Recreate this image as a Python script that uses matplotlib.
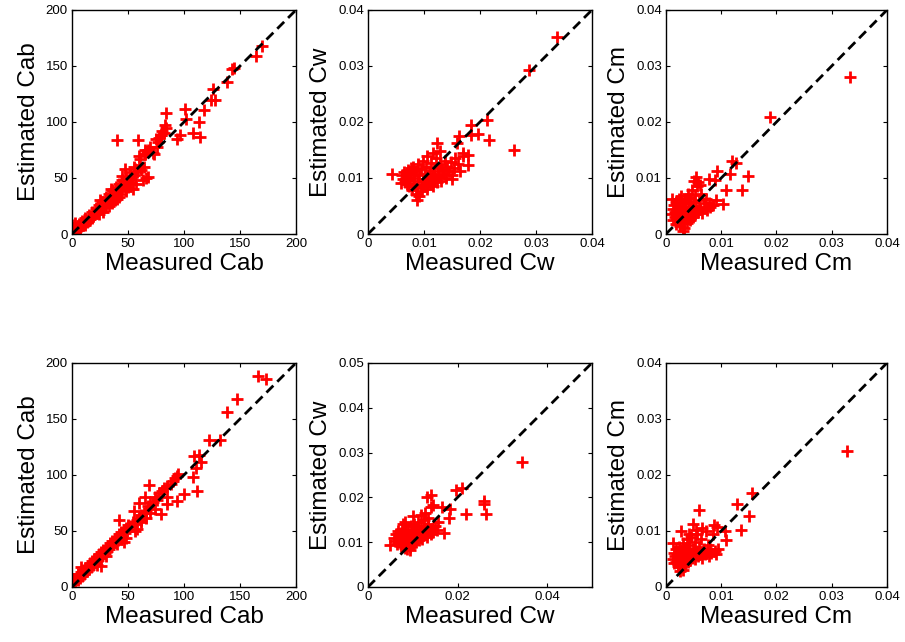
import matplotlib
matplotlib.use("Agg")
import matplotlib.pyplot as plt
import numpy as np

plt.rcParams["font.family"] = ["Liberation Sans", "DejaVu Sans"]

# ---- Cab, top row ----
cab1_x = [1, 2, 2, 3, 4, 5, 6, 7, 8, 9, 10, 11, 12, 13, 14, 15, 16, 17, 18, 19,
          20, 21, 22, 23, 24, 25, 26, 27, 28, 29, 30, 31, 32, 33, 34, 35, 36, 37, 38, 39,
          40, 41, 42, 43, 44, 45, 46, 47, 48, 49, 50, 52, 53, 55, 56, 58, 60, 62, 64, 66,
          57, 48, 42, 38, 33, 28, 60, 65, 70, 72, 75, 78, 80, 82, 84, 76, 77, 79, 3, 0,
          1, 35, 45, 25, 18, 12, 52, 54, 63, 61, 68, 73, 30, 36, 44, 50, 24, 40,
          40, 59, 84, 101, 102, 113, 108, 114, 96, 94, 83, 79, 118, 124, 126, 128, 138, 143,
          145, 164, 170, 65, 67, 68, 47, 55]
cab1_y = [5, 3, 8, 1, 6, 4, 9, 5, 7, 12, 8, 10, 14, 11, 12, 17, 13, 15, 20, 16,
          18, 23, 19, 21, 26, 22, 24, 29, 25, 27, 33, 28, 30, 36, 31, 33, 39, 34, 36, 42,
          37, 39, 45, 40, 42, 48, 43, 45, 51, 46, 48, 55, 50, 53, 58, 55, 62, 57, 60, 50,
          45, 38, 33, 30, 25, 20, 70, 75, 78, 72, 85, 86, 92, 90, 95, 78, 82, 88, 10, 2,
          0, 40, 52, 30, 14, 8, 46, 40, 48, 67, 75, 71, 24, 28, 36, 42, 18, 31,
          84, 84, 108, 112, 103, 100, 90, 87, 88, 85, 97, 88, 111, 120, 129, 120, 136, 147,
          148, 159, 168, 71, 73, 51, 58, 60]

# ---- Cw, top row ----
cw1_x = [0.0060, 0.0062, 0.0065, 0.0067, 0.0070, 0.0072, 0.0073, 0.0075, 0.0077, 0.0078,
         0.0080, 0.0081, 0.0083, 0.0085, 0.0086, 0.0087, 0.0089, 0.0090, 0.0091, 0.0092,
         0.0094, 0.0095, 0.0096, 0.0098, 0.0099, 0.0100, 0.0102, 0.0103, 0.0104, 0.0106,
         0.0107, 0.0109, 0.0110, 0.0112, 0.0113, 0.0115, 0.0116, 0.0118, 0.0120, 0.0121,
         0.0123, 0.0125, 0.0127, 0.0129, 0.0131, 0.0133, 0.0135, 0.0137, 0.0140, 0.0142,
         0.0145, 0.0148, 0.0150, 0.0153, 0.0156, 0.0160, 0.0165, 0.0170, 0.0088, 0.0082,
         0.0076, 0.0069, 0.0105, 0.0117, 0.0128,
         0.0337, 0.0287, 0.0260, 0.0213, 0.0216, 0.0197, 0.0184, 0.0184, 0.0163, 0.0159,
         0.0124, 0.0043, 0.0059, 0.0178, 0.0179, 0.0169, 0.0150]
cw1_y = [0.0105, 0.0098, 0.0110, 0.0092, 0.0102, 0.0115, 0.0085, 0.0097, 0.0108, 0.0078,
         0.0090, 0.0120, 0.0100, 0.0072, 0.0112, 0.0083, 0.0095, 0.0125, 0.0068, 0.0105,
         0.0088, 0.0116, 0.0076, 0.0098, 0.0130, 0.0085, 0.0108, 0.0092, 0.0120, 0.0080,
         0.0102, 0.0113, 0.0090, 0.0127, 0.0097, 0.0108, 0.0085, 0.0118, 0.0100, 0.0135,
         0.0092, 0.0112, 0.0104, 0.0125, 0.0095, 0.0116, 0.0108, 0.0130, 0.0100, 0.0120,
         0.0112, 0.0128, 0.0106, 0.0118, 0.0135, 0.0125, 0.0112, 0.0140, 0.0060, 0.0108,
         0.0118, 0.0090, 0.0140, 0.0145, 0.0148,
         0.0352, 0.0292, 0.0150, 0.0204, 0.0168, 0.0178, 0.0195, 0.0177, 0.0175, 0.0162,
         0.0163, 0.0108, 0.0091, 0.0123, 0.0141, 0.0145, 0.0099]

# ---- Cm, top row ----
cm1_x = [0.0010, 0.0012, 0.0013, 0.0015, 0.0016, 0.0017, 0.0018, 0.0019, 0.0020, 0.0021,
         0.0022, 0.0023, 0.0024, 0.0025, 0.0026, 0.0027, 0.0028, 0.0029, 0.0030, 0.0031,
         0.0032, 0.0033, 0.0034, 0.0035, 0.0036, 0.0037, 0.0038, 0.0039, 0.0040, 0.0041,
         0.0042, 0.0043, 0.0044, 0.0045, 0.0046, 0.0047, 0.0048, 0.0049, 0.0050, 0.0052,
         0.0053, 0.0055, 0.0056, 0.0058, 0.0060, 0.0062, 0.0064, 0.0066, 0.0068, 0.0070,
         0.0072, 0.0075, 0.0078, 0.0080, 0.0085, 0.0090, 0.0058, 0.0062, 0.0050, 0.0030,
         0.0035, 0.0027,
         0.0333, 0.0188, 0.0120, 0.0126, 0.0149, 0.0116, 0.0137, 0.0108, 0.0103, 0.0092,
         0.0077, 0.0089, 0.0055, 0.0011]
cm1_y = [0.0035, 0.0045, 0.0025, 0.0052, 0.0030, 0.0040, 0.0018, 0.0058, 0.0035, 0.0045,
         0.0025, 0.0062, 0.0038, 0.0015, 0.0050, 0.0030, 0.0068, 0.0042, 0.0022, 0.0055,
         0.0035, 0.0010, 0.0048, 0.0028, 0.0062, 0.0040, 0.0020, 0.0072, 0.0045, 0.0032,
         0.0055, 0.0025, 0.0065, 0.0038, 0.0048, 0.0078, 0.0030, 0.0058, 0.0042, 0.0070,
         0.0035, 0.0050, 0.0085, 0.0040, 0.0060, 0.0045, 0.0072, 0.0038, 0.0055, 0.0048,
         0.0062, 0.0042, 0.0055, 0.0048, 0.0052, 0.0060, 0.0092, 0.0088, 0.0095, 0.0005,
         0.0060, 0.0038,
         0.0280, 0.0208, 0.0130, 0.0126, 0.0104, 0.0108, 0.0079, 0.0078, 0.0053, 0.0113,
         0.0099, 0.0097, 0.0102, 0.0063]

# ---- Cab, bottom row ----
cab2_x = [1, 2, 3, 4, 5, 6, 7, 8, 9, 10, 11, 12, 13, 14, 15, 16, 17, 18, 19, 20,
          21, 22, 23, 24, 25, 26, 27, 28, 29, 30, 31, 32, 33, 34, 35, 36, 37, 38, 39, 40,
          41, 42, 43, 44, 45, 46, 47, 48, 49, 50, 52, 54, 56, 58, 60, 62, 64, 66, 68, 70,
          72, 74, 76, 78, 80, 82, 56, 48, 40, 30, 22, 46, 58, 62, 66, 70, 74, 85, 88, 90,
          92, 60, 62, 8, 5,
          166, 173, 147, 138, 122, 132, 109, 113, 115, 111, 108, 94, 95, 112, 100, 94, 85, 85,
          69, 65, 79, 55, 42, 26, 2]
cab2_y = [3, 7, 5, 9, 6, 11, 8, 13, 10, 15, 12, 17, 14, 19, 16, 21, 18, 23, 20, 25,
          22, 27, 24, 29, 26, 31, 28, 33, 30, 35, 32, 37, 34, 39, 36, 41, 38, 43, 40, 45,
          42, 47, 44, 49, 46, 51, 48, 53, 50, 55, 54, 58, 56, 60, 62, 64, 66, 68, 72, 75,
          76, 80, 78, 84, 86, 88, 50, 44, 38, 28, 20, 40, 52, 58, 62, 66, 70, 90, 92, 95,
          97, 75, 60, 18, 12,
          188, 186, 168, 156, 131, 131, 117, 118, 112, 106, 98, 99, 101, 86, 83, 77, 74, 80,
          91, 80, 65, 68, 60, 19, 7]

# ---- Cw, bottom row ----
cw2_x = [0.0058, 0.0060, 0.0062, 0.0064, 0.0066, 0.0068, 0.0070, 0.0071, 0.0073, 0.0074,
         0.0076, 0.0077, 0.0079, 0.0080, 0.0082, 0.0083, 0.0085, 0.0086, 0.0088, 0.0089,
         0.0090, 0.0092, 0.0093, 0.0095, 0.0096, 0.0098, 0.0099, 0.0101, 0.0102, 0.0104,
         0.0105, 0.0107, 0.0108, 0.0110, 0.0112, 0.0113, 0.0115, 0.0117, 0.0119, 0.0121,
         0.0123, 0.0125, 0.0127, 0.0130, 0.0132, 0.0135, 0.0138, 0.0140, 0.0143, 0.0146,
         0.0150, 0.0155, 0.0088, 0.0094, 0.0078, 0.0118, 0.0128, 0.0134,
         0.0343, 0.0258, 0.0260, 0.0264, 0.0219, 0.0196, 0.0211, 0.0180, 0.0170, 0.0184,
         0.0165, 0.0131, 0.0140, 0.0140, 0.0146, 0.0157, 0.0100, 0.0082, 0.0049]
cw2_y = [0.0110, 0.0102, 0.0118, 0.0095, 0.0108, 0.0125, 0.0100, 0.0113, 0.0092, 0.0120,
         0.0105, 0.0130, 0.0098, 0.0112, 0.0088, 0.0122, 0.0102, 0.0115, 0.0095, 0.0128,
         0.0108, 0.0118, 0.0090, 0.0135, 0.0102, 0.0112, 0.0125, 0.0095, 0.0140, 0.0108,
         0.0118, 0.0100, 0.0130, 0.0112, 0.0145, 0.0104, 0.0122, 0.0115, 0.0135, 0.0108,
         0.0125, 0.0150, 0.0118, 0.0132, 0.0112, 0.0140, 0.0125, 0.0118, 0.0130, 0.0122,
         0.0135, 0.0128, 0.0085, 0.0083, 0.0140, 0.0160, 0.0165, 0.0155,
         0.0278, 0.0192, 0.0185, 0.0162, 0.0162, 0.0217, 0.0221, 0.0153, 0.0121, 0.0175,
         0.0179, 0.0201, 0.0205, 0.0179, 0.0182, 0.0145, 0.0158, 0.0145, 0.0093]

# ---- Cm, bottom row ----
cm2_x = [0.0012, 0.0014, 0.0015, 0.0017, 0.0018, 0.0019, 0.0020, 0.0021, 0.0022, 0.0023,
         0.0024, 0.0025, 0.0026, 0.0027, 0.0028, 0.0029, 0.0030, 0.0031, 0.0032, 0.0033,
         0.0034, 0.0035, 0.0036, 0.0037, 0.0038, 0.0039, 0.0040, 0.0041, 0.0042, 0.0043,
         0.0045, 0.0046, 0.0047, 0.0048, 0.0050, 0.0052, 0.0053, 0.0055, 0.0057, 0.0058,
         0.0060, 0.0062, 0.0064, 0.0066, 0.0068, 0.0070, 0.0072, 0.0074, 0.0076, 0.0078,
         0.0080, 0.0082, 0.0085, 0.0088, 0.0090, 0.0055, 0.0042, 0.0030, 0.0025, 0.0065,
         0.0327, 0.0156, 0.0129, 0.0150, 0.0136, 0.0108, 0.0107, 0.0060, 0.0087, 0.0092,
         0.0048, 0.0028, 0.0013, 0.0095]
cm2_y = [0.0050, 0.0060, 0.0042, 0.0055, 0.0068, 0.0045, 0.0058, 0.0038, 0.0050, 0.0072,
         0.0062, 0.0045, 0.0055, 0.0035, 0.0066, 0.0050, 0.0078, 0.0042, 0.0058, 0.0048,
         0.0070, 0.0040, 0.0062, 0.0052, 0.0085, 0.0045, 0.0065, 0.0055, 0.0075, 0.0048,
         0.0060, 0.0090, 0.0052, 0.0068, 0.0058, 0.0080, 0.0050, 0.0065, 0.0095, 0.0055,
         0.0072, 0.0060, 0.0085, 0.0052, 0.0068, 0.0058, 0.0100, 0.0062, 0.0075, 0.0055,
         0.0068, 0.0060, 0.0095, 0.0065, 0.0058, 0.0102, 0.0095, 0.0030, 0.0028, 0.0105,
         0.0243, 0.0167, 0.0149, 0.0127, 0.0101, 0.0083, 0.0100, 0.0137, 0.0110, 0.0107,
         0.0113, 0.0100, 0.0079, 0.0068]

PANELS = [
    # (x, y, limit, ticks_x, ticks_y, name, rect)
    (cab1_x, cab1_y, 200, [0, 50, 100, 150, 200], [0, 50, 100, 150, 200], "Cab",
     [0.0796, 0.6355, 0.2475, 0.349]),
    (cw1_x, cw1_y, 0.04, [0, 0.01, 0.02, 0.03, 0.04], [0, 0.01, 0.02, 0.03, 0.04], "Cw",
     [0.4066, 0.6355, 0.2475, 0.349]),
    (cm1_x, cm1_y, 0.04, [0, 0.01, 0.02, 0.03, 0.04], [0, 0.01, 0.02, 0.03, 0.04], "Cm",
     [0.7359, 0.6355, 0.2442, 0.349]),
    (cab2_x, cab2_y, 200, [0, 50, 100, 150, 200], [0, 50, 100, 150, 200], "Cab",
     [0.0796, 0.0857, 0.2475, 0.349]),
    (cw2_x, cw2_y, 0.05, [0, 0.02, 0.04], [0, 0.01, 0.02, 0.03, 0.04, 0.05], "Cw",
     [0.4066, 0.0857, 0.2475, 0.349]),
    (cm2_x, cm2_y, 0.04, [0, 0.01, 0.02, 0.03, 0.04], [0, 0.01, 0.02, 0.03, 0.04], "Cm",
     [0.7359, 0.0857, 0.2442, 0.349]),
]


def tick_text(v):
    return "0" if v == 0 else f"{v:g}"


fig = plt.figure(figsize=(9.05, 6.42), dpi=100)

for xs, ys, lim, tx, ty, name, rect in PANELS:
    ax = fig.add_axes(rect)
    ax.plot([0, lim], [0, lim], "k--", linewidth=2, dashes=(3.5, 2.0), zorder=3)
    ax.plot(xs, ys, "+", color="#ff0000", markersize=8, markeredgewidth=2, zorder=2)
    ax.set_xlim(0, lim)
    ax.set_ylim(0, lim)
    ax.set_xticks(tx)
    ax.set_yticks(ty)
    ax.set_xticklabels([tick_text(v) for v in tx])
    ax.set_yticklabels([tick_text(v) for v in ty])
    ax.tick_params(direction="in", length=3, width=0.8, top=True, right=True,
                   labelsize=9.5, pad=3)
    for sp in ax.spines.values():
        sp.set_linewidth(1.0)
    ax.set_xlabel(f"Measured {name}", fontsize=17.5, labelpad=2)
    ax.set_ylabel(f"Estimated {name}", fontsize=17.5, labelpad=4)

fig.savefig("out.png", dpi=100)
